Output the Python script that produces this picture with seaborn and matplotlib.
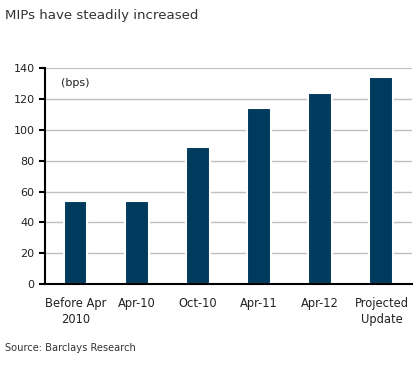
import matplotlib
matplotlib.use("Agg")
import matplotlib.pyplot as plt
import seaborn as sns
import pandas as pd

# data
categories = ["Before Apr\n2010", "Apr-10", "Oct-10", "Apr-11", "Apr-12", "Projected\nUpdate"]
mips_bps = [54, 54, 89, 114, 124, 134]
y_ticks = [0, 20, 40, 60, 80, 100, 120, 140]

df = pd.DataFrame({"period": categories, "bps": mips_bps})

sns.set_style("white")
plt.rcParams["font.family"] = ["DejaVu Sans"]

fig = plt.figure(figsize=(4.2, 3.68), dpi=100)
ax = fig.add_axes([0.107, 0.228, 0.874, 0.587])

# grid behind the bars
for t in y_ticks[1:]:
    ax.axhline(t, color="#c0c0c0", lw=1.6 if t == 140 else 1.0, zorder=0)

sns.barplot(data=df, x="period", y="bps", color="#003a5d", width=0.39,
            saturation=1, edgecolor="white", linewidth=1.5, ax=ax, zorder=2)

ax.set_xlim(-0.5, len(categories) - 0.5)
ax.set_ylim(0, 140)
ax.set_yticks(y_ticks)
ax.set_xticks([i - 0.5 for i in range(len(categories) + 1)], minor=False)
ax.set_xticklabels([])
ax.set_xticks(range(len(categories)), minor=True)
ax.set_xticklabels(categories, minor=True, fontsize=8.3, color="#222222",
                   linespacing=1.35)
ax.tick_params(axis="x", which="minor", length=0, pad=9)
ax.tick_params(axis="x", which="major", length=4, width=1.5, direction="out", color="black")
ax.tick_params(axis="y", length=4, width=1.5, direction="out", labelsize=8,
               labelcolor="#222222", color="black", left=True)
ax.set_xlabel("")
ax.set_ylabel("")

for side in ["top", "right"]:
    ax.spines[side].set_visible(False)
for side in ["left", "bottom"]:
    ax.spines[side].set_color("black")
    ax.spines[side].set_linewidth(1.5)

ax.text(0.045, 0.955, "(bps)", transform=ax.transAxes, fontsize=8,
        color="#222222", va="top")

fig.text(0.012, 0.975, "MIPs have steadily increased", fontsize=9.6,
         color="#333333", va="top", ha="left")
fig.text(0.012, 0.055, "Source: Barclays Research", fontsize=7.1,
         color="#333333", va="center", ha="left")

fig.savefig("out.png", dpi=100)
